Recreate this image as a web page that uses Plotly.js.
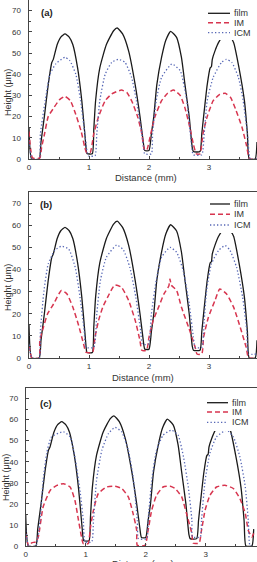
<!DOCTYPE html>
<html>
<head>
<meta charset="utf-8">
<script src="https://cdn.plot.ly/plotly-3.0.1.min.js"></script>
<style>html,body{margin:0;padding:0;background:#fff;}#chart{width:257px;height:562px;}</style>
</head>
<body>
<div id="chart"></div>
<script>
// ---- data (Distance mm, Height µm) ----
const panelLabels = ["(a)", "(b)", "(c)"];
const seriesNames = ["film", "IM", "ICM"];
const xTitle = "Distance (mm)";
const yTitle = "Height (μm)";
const xTicks = [0, 1, 2, 3];
const yTicks = [0, 10, 20, 30, 40, 50, 60, 70];

const film = [[0,15],[0.045,0],[0.17,0],[0.2,8],[0.256,20],[0.32,35],[0.38,45.5],[0.405,47],[0.47,54],[0.53,57.5],[0.6,59],[0.67,57.5],[0.73,54],[0.81,43],[0.88,27.5],[0.93,12],[0.96,3],[0.97,2.5],[1.055,2.5],[1.08,14],[1.11,27.5],[1.18,43],[1.29,54],[1.41,60.5],[1.47,61.8],[1.56,59],[1.66,51],[1.77,35],[1.85,20],[1.9,9],[1.93,4],[2.0,4],[2.04,12],[2.08,20],[2.13,35],[2.21,48],[2.28,56],[2.36,60.2],[2.46,57.4],[2.54,48],[2.6,35],[2.67,20],[2.72,5.5],[2.74,3.5],[2.85,3.5],[2.88,12],[2.91,20],[2.97,35],[3.02,43],[3.04,43.5],[3.055,47],[3.1,51],[3.16,55],[3.22,57.5],[3.28,58.5],[3.35,57.5],[3.41,55],[3.5,43],[3.59,27.5],[3.64,12],[3.67,0],[3.77,0],[3.8,8]];

const imA = [[0,13],[0.06,0.5],[0.18,0.5],[0.21,5.5],[0.26,12],[0.32,20],[0.41,24],[0.51,28],[0.6,29.5],[0.69,27.5],[0.78,21],[0.87,13],[0.93,5.5],[0.96,3],[1.02,3],[1.08,12],[1.16,20],[1.27,27.5],[1.38,30.7],[1.54,32.5],[1.63,31.4],[1.71,27.5],[1.81,20],[1.88,12],[1.92,4.7],[1.96,4],[2.03,12],[2.1,20],[2.21,27.5],[2.31,31],[2.41,32.5],[2.52,30],[2.6,24],[2.68,15],[2.74,7],[2.79,2.4],[2.85,2.4],[2.9,12],[2.97,20],[3.07,27.5],[3.18,30.5],[3.27,31],[3.36,29],[3.45,23],[3.55,15],[3.62,7],[3.68,0],[3.8,0]];
const icmA = [[0,8.6],[0.05,0],[0.17,0],[0.19,12],[0.27,27.5],[0.35,40],[0.45,45],[0.6,48],[0.68,46.4],[0.78,40],[0.86,27.5],[0.93,12],[0.97,3],[0.99,1.5],[1.1,1.5],[1.13,12],[1.18,27.5],[1.27,40],[1.38,45.6],[1.49,47],[1.6,45.6],[1.71,38.5],[1.79,27.5],[1.88,12],[1.92,3],[1.93,2.4],[2.04,2.4],[2.06,12],[2.12,27.5],[2.21,38.5],[2.38,44.8],[2.52,41.7],[2.63,27.5],[2.69,12],[2.74,2],[2.88,2],[2.92,12],[2.97,27.5],[3.07,38.5],[3.21,45.6],[3.29,47],[3.38,45.6],[3.49,38.5],[3.57,27.5],[3.64,12],[3.69,0],[3.8,0]];

const imB = [[0,5.6],[0.05,0],[0.17,0],[0.18,7.8],[0.24,13.9],[0.31,20],[0.41,24.4],[0.54,30.5],[0.63,29],[0.73,23],[0.82,15.4],[0.91,6.3],[0.95,2.6],[1.06,2.6],[1.1,9.4],[1.16,17],[1.23,23],[1.32,28],[1.43,33],[1.54,32],[1.66,26],[1.77,17],[1.85,7.8],[1.88,3.5],[1.96,3.5],[2.0,9.4],[2.07,17],[2.16,23],[2.25,29],[2.33,32.5],[2.35,35.7],[2.37,33],[2.46,30.5],[2.54,23],[2.66,13.9],[2.77,4.8],[2.8,1.8],[2.88,1.8],[2.91,9.4],[2.99,18.4],[3.1,26],[3.18,31.2],[3.29,29],[3.41,23],[3.52,13.9],[3.62,4.8],[3.66,0],[3.8,0]];
const icmB = [[0,6],[0.05,0],[0.17,0],[0.19,12.4],[0.25,30.5],[0.32,42.5],[0.43,48.6],[0.54,50.5],[0.66,49.3],[0.77,41],[0.85,27.5],[0.92,12.4],[0.95,4.8],[1.08,4.8],[1.13,20],[1.19,35],[1.29,45.5],[1.46,51],[1.57,49],[1.68,41],[1.78,27.5],[1.86,12.4],[1.89,6.3],[1.99,6.3],[2.04,20],[2.12,35],[2.21,45.5],[2.35,50],[2.46,47.8],[2.57,39.5],[2.67,24.4],[2.74,9.4],[2.77,4.8],[2.88,4.8],[2.92,17],[2.96,30.5],[3.04,42.5],[3.16,48.6],[3.27,50.8],[3.35,48.6],[3.46,41],[3.56,27.5],[3.63,12.4],[3.66,1.8],[3.8,1.8]];

const imC = [[0,5.9],[0.05,0],[0.1,1.5],[0.17,2],[0.21,4.3],[0.29,18.5],[0.41,26.5],[0.52,28.8],[0.63,29.6],[0.74,28],[0.82,21.7],[0.88,12.2],[0.93,4.3],[0.96,1.1],[1.04,1.1],[1.08,9],[1.13,17],[1.21,24.9],[1.35,28],[1.49,28.4],[1.6,27.3],[1.71,23.3],[1.79,15.4],[1.85,7.4],[1.86,0.3],[1.99,0.3],[2.04,7.4],[2.1,17],[2.18,24],[2.29,28],[2.41,28.4],[2.49,27.3],[2.6,23.3],[2.68,15.4],[2.77,5.9],[2.79,1.4],[2.89,1.4],[2.93,7.4],[2.99,17],[3.07,24],[3.18,28],[3.32,28.8],[3.46,27.3],[3.57,22.5],[3.66,15.4],[3.71,7.4],[3.77,4.3],[3.8,6]];
const icmC = [[0,7.4],[0.05,0],[0.17,0],[0.24,12.2],[0.29,31],[0.35,44],[0.43,51.8],[0.63,54.2],[0.74,51.8],[0.82,42.3],[0.91,25],[0.96,12.2],[0.99,1.9],[1.1,1.9],[1.13,12.2],[1.18,31],[1.27,45.5],[1.38,53.4],[1.49,56.3],[1.6,54.2],[1.71,45.5],[1.79,32.8],[1.86,12.2],[1.88,3.5],[2.02,3.5],[2.04,12.2],[2.1,31],[2.18,45.5],[2.29,52.6],[2.43,55],[2.54,52.6],[2.63,42.3],[2.71,28],[2.77,12.2],[2.78,4.3],[2.91,4.3],[2.93,12.2],[2.99,31],[3.07,44],[3.18,51.8],[3.35,55],[3.46,51.8],[3.57,42.3],[3.66,28],[3.71,12.2],[3.74,0],[3.8,0]];

// ---- styling / layout ----
const W = 257, H = 562;
const FONT = "Liberation Sans, Arial, sans-serif";
const TXT = "#333";
const styles = {
  film: {color: "#1a1a1a", width: 1.3, dash: "solid"},
  IM:   {color: "#d7354f", width: 1.5, dash: "5px,3px"},
  ICM:  {color: "#5566b5", width: 1.3, dash: "1.3px,2.2px"}
};
const px2x = p => p / W;
const px2y = p => (H - p) / H;

// panel geometry in pixels
const panels = [
  {top: 0,   bottom: 159, left: 28.5, x0px: 29,   data: [film, imA, icmA],
   lab: {x: 39, y: 13}, ytitle: {x: 8, y: 93}, xtitle: {x: 146, y: 177},
   leg: {rect: [200, 4, 257, 40], rows: [13.3, 22.7, 32.7], l0: 208, l1: 230, tx: 232}},
  {top: 192, bottom: 358, left: 28.5, x0px: 29,   data: [film, imB, icmB],
   lab: {x: 38, y: 204}, ytitle: {x: 8, y: 288}, xtitle: {x: 143, y: 377},
   leg: {rect: [201, 195, 257, 233], rows: [204, 214.3, 225], l0: 210, l1: 230, tx: 232}},
  {top: 388, bottom: 546, left: 25.7, x0px: 25.7, data: [film, imC, icmC],
   lab: {x: 37.5, y: 403}, ytitle: {x: 6, y: 478}, xtitle: {x: 143, y: 563.5},
   leg: {rect: [198, 393, 257, 431], rows: [402.7, 412, 422.3], l0: 207, l1: 228, tx: 230}}
];

const traces = [];
const layout = {
  width: W, height: H,
  margin: {l: 0, r: 0, t: 0, b: 0},
  paper_bgcolor: "#fff", plot_bgcolor: "#fff",
  showlegend: false,
  font: {family: FONT, size: 8, color: TXT},
  shapes: [], annotations: []
};

panels.forEach((p, i) => {
  const sfx = i === 0 ? "" : String(i + 1);
  const xa = "xaxis" + sfx, ya = "yaxis" + sfx;
  const pxPerMm = 60;
  const xmin = (p.left - p.x0px) / pxPerMm;
  const xmax = (W - p.x0px) / pxPerMm;
  layout[xa] = {
    domain: [px2x(p.left), 1], range: [xmin, xmax], anchor: "y" + sfx,
    tickvals: xTicks, ticks: "inside", ticklen: 3, tickcolor: "#444",
    showline: true, mirror: true, linecolor: "#444", linewidth: 1,
    showgrid: false, zeroline: false,
    tickfont: {size: 8, color: TXT, family: FONT},
    minor: {ticks: "inside", ticklen: 2, dtick: 0.5, tickcolor: "#444"}
  };
  layout[ya] = {
    domain: [px2y(p.bottom), px2y(p.top)], range: [0, 75], anchor: "x" + sfx,
    tickvals: yTicks, ticks: "inside", ticklen: 3, tickcolor: "#444",
    showline: true, mirror: true, linecolor: "#444", linewidth: 1,
    showgrid: false, zeroline: false, ticklabelstandoff: 5,
    tickfont: {size: 8, color: TXT, family: FONT},
    minor: {ticks: "inside", ticklen: 2, dtick: 5, tickcolor: "#444"}
  };
  p.data.forEach((d, k) => {
    const st = styles[seriesNames[k]];
    traces.push({
      type: "scatter", mode: "lines", name: seriesNames[k],
      x: d.map(v => v[0]), y: d.map(v => v[1]),
      xaxis: "x" + sfx, yaxis: "y" + sfx,
      line: {color: st.color, width: st.width, dash: st.dash, shape: "spline", smoothing: 0.5},
      cliponaxis: true, hoverinfo: "skip"
    });
  });
  // legend box
  const L = p.leg;
  layout.shapes.push({type: "rect", xref: "paper", yref: "paper",
    x0: px2x(L.rect[0]), x1: px2x(L.rect[2]), y0: px2y(L.rect[3]), y1: px2y(L.rect[1]),
    fillcolor: "#fff", line: {width: 0}, layer: "above"});
  seriesNames.forEach((nm, k) => {
    const st = styles[nm];
    layout.shapes.push({type: "line", xref: "paper", yref: "paper",
      x0: px2x(L.l0), x1: px2x(L.l1), y0: px2y(L.rows[k]), y1: px2y(L.rows[k]),
      line: {color: st.color, width: st.width, dash: st.dash}, layer: "above"});
    layout.annotations.push({xref: "paper", yref: "paper", x: px2x(L.tx), y: px2y(L.rows[k]),
      text: nm, showarrow: false, xanchor: "left", yanchor: "middle",
      font: {size: 9, color: TXT, family: FONT}});
  });
  // panel label
  layout.annotations.push({xref: "paper", yref: "paper", x: px2x(p.lab.x), y: px2y(p.lab.y),
    text: "<b>" + panelLabels[i] + "</b>", showarrow: false, xanchor: "left", yanchor: "middle",
    font: {size: 9.5, color: "#222", family: FONT}});
  // axis titles
  layout.annotations.push({xref: "paper", yref: "paper", x: px2x(p.ytitle.x), y: px2y(p.ytitle.y),
    text: yTitle, textangle: -90, showarrow: false, xanchor: "center", yanchor: "middle",
    font: {size: 9, color: TXT, family: FONT}});
  layout.annotations.push({xref: "paper", yref: "paper", x: px2x(p.xtitle.x), y: px2y(p.xtitle.y),
    text: xTitle, showarrow: false, xanchor: "center", yanchor: "middle",
    font: {size: 9.5, color: TXT, family: FONT}});
});

Plotly.newPlot("chart", traces, layout, {staticPlot: true, displayModeBar: false});
</script>
</body>
</html>
